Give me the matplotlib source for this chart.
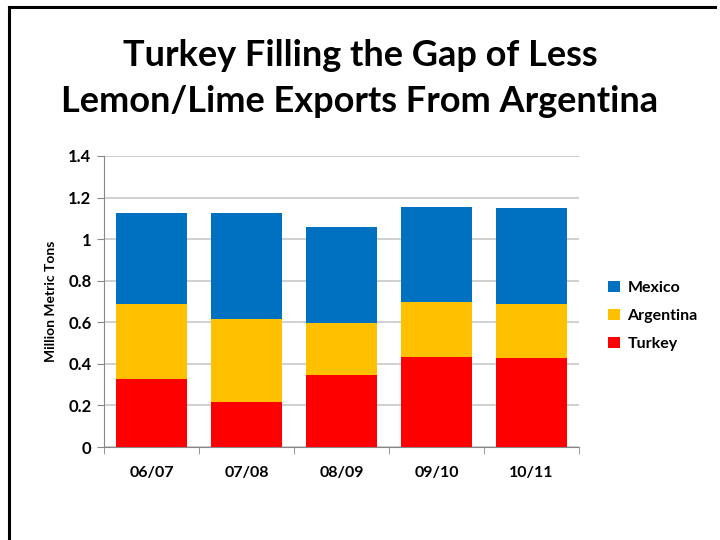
import matplotlib
matplotlib.use("Agg")
import matplotlib.pyplot as plt
import numpy as np
from matplotlib.lines import Line2D

# Datos
seasons = ["06/07", "07/08", "08/09", "09/10", "10/11"]
turkey = [0.327, 0.216, 0.346, 0.431, 0.428]
argentina = [0.359, 0.401, 0.252, 0.265, 0.260]
mexico = [0.438, 0.510, 0.462, 0.457, 0.460]
yticks = [0, 0.2, 0.4, 0.6, 0.8, 1, 1.2, 1.4]
ytick_labels = ["0", "0.2", "0.4", "0.6", "0.8", "1", "1.2", "1.4"]

plt.rcParams['font.family'] = ['Lato', 'DejaVu Sans']

fig = plt.figure(figsize=(7.2, 5.4), dpi=100)

# marco de la diapositiva (izquierda y arriba)
fig.add_artist(Line2D([9 / 720, 9 / 720], [0, 1 - 7 / 540], color='black', lw=2.2))
fig.add_artist(Line2D([9 / 720, 715 / 720], [1 - 7 / 540, 1 - 7 / 540], color='black', lw=2.2))

fig.text(0.5, 1 - 55 / 540, "Turkey Filling the Gap of Less", ha='center', va='center',
         fontsize=26, fontweight='bold')
fig.text(0.5, 1 - 101 / 540, "Lemon/Lime Exports From Argentina", ha='center', va='center',
         fontsize=26, fontweight='bold')

ax = fig.add_axes([104 / 720, 1 - 447 / 540, (579 - 104) / 720, (447 - 156) / 540])

x = np.arange(len(seasons))
w = 0.737
t = np.array(turkey)
a = np.array(argentina)
m = np.array(mexico)
ax.bar(x, t, w, color='#FF0000', label='Turkey', zorder=3)
ax.bar(x, a, w, bottom=t, color='#FFC000', label='Argentina', zorder=3)
ax.bar(x, m, w, bottom=t + a, color='#0070C0', label='Mexico', zorder=3)

ax.set_xlim(-0.5, len(seasons) - 0.5)
ax.set_ylim(0, 1.4)
ax.set_yticks(yticks)
ax.set_yticklabels(ytick_labels, fontsize=12, fontweight='bold')
ax.yaxis.grid(True, color='#C8C8C8', lw=1.2, zorder=0)
ax.set_axisbelow(True)

ax.set_xticks(x)
ax.set_xticklabels(seasons, fontsize=11.5, fontweight='bold')
ax.tick_params(axis='x', length=0, pad=14)
ax.set_xticks(np.arange(-0.5, len(seasons)), minor=True)
ax.tick_params(axis='x', which='minor', length=5, color='#888888')
ax.tick_params(axis='y', length=5, color='#888888', pad=4)

for s in ['top', 'right']:
    ax.spines[s].set_visible(False)
ax.spines['left'].set_color('#888888')
ax.spines['bottom'].set_color('#888888')

ax.set_ylabel("Million Metric Tons", fontsize=10, fontweight='bold', labelpad=8)

handles, labels = ax.get_legend_handles_labels()
fig.legend(handles[::-1], labels[::-1], loc='center left',
           bbox_to_anchor=(594 / 720, 1 - 316 / 540), frameon=False,
           prop={'size': 11.5, 'weight': 'bold'}, handlelength=0.75, handleheight=0.75,
           handletextpad=0.45, labelspacing=0.85)

plt.savefig("out.png", dpi=100)
